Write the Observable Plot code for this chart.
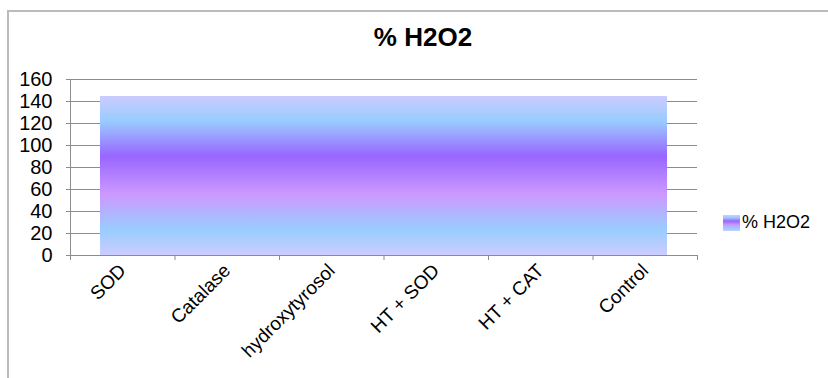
<!DOCTYPE html>
<html>
<head>
<meta charset="utf-8">
<script src="https://cdn.jsdelivr.net/npm/d3@7"></script>
<script src="https://cdn.jsdelivr.net/npm/@observablehq/plot@0.6"></script>
<style>
  html, body { margin: 0; padding: 0; background: #fff; }
  #wrap { position: relative; width: 828px; height: 378px; overflow: hidden; font-family: "Liberation Sans", Arial, sans-serif; }
  #frame { position: absolute; left: 7px; top: 10px; width: 900px; height: 500px; border-left: 2px solid #bbb; border-top: 2px solid #bbb; box-sizing: border-box; }
  #title { position: absolute; left: 0; top: 22px; width: 846px; text-align: center; font-weight: bold; font-size: 26px; color: #000; }
  #legend { position: absolute; left: 723px; top: 212px; display: flex; align-items: center; font-size: 18px; color: #000; }
  #legend .sw { width: 17px; height: 16px; margin-right: 2px;
    background: linear-gradient(to bottom, #ccccff 0%, #99ccff 16%, #9966ff 38%, #cc99ff 62%, #99ccff 84%, #ccccff 100%); }
  #chart { position: absolute; left: 0; top: 0; }
</style>
</head>
<body>
<div id="wrap">
  <div id="frame"></div>
  <div id="chart"></div>
  <div id="title">% H2O2</div>
  <div id="legend"><div class="sw"></div><span>% H2O2</span></div>
</div>
<script>
const categories = ["SOD", "Catalase", "hydroxytyrosol", "HT + SOD", "HT + CAT", "Control"];
const values = [145, 145, 145, 145, 145, 145];
const yTicks = [0, 20, 40, 60, 80, 100, 120, 140, 160];

const data = categories.map((c, i) => ({category: c, index: i, value: values[i]}));
const n = categories.length;
const outerInset = 0.287;                 // bars start/end inside the first/last category slot
const barStep = (n - 2 * outerInset) / n; // bars are drawn edge to edge

const plot = Plot.plot({
  width: 828,
  height: 378,
  marginLeft: 70,
  marginRight: 131,
  marginTop: 79,
  marginBottom: 123,
  style: {fontFamily: "'Liberation Sans', Arial, sans-serif", background: "transparent"},
  x: {type: "linear", domain: [0, n], axis: null},
  y: {domain: [0, 160], axis: null},
  marks: [
    Plot.gridY(yTicks.slice(1), {stroke: "#8c8c8c", strokeOpacity: 1, strokeWidth: 1}),
    Plot.rectY(data, {
      x1: d => outerInset + d.index * barStep,
      x2: d => outerInset + (d.index + 1) * barStep,
      y: "value",
      fill: "url(#barGrad)",
      shapeRendering: "crispEdges"
    }),
    Plot.ruleX([0], {y1: 0, y2: 160, stroke: "#8c8c8c", strokeWidth: 1}),
    Plot.ruleY([0], {stroke: "#8c8c8c", strokeWidth: 1}),
    Plot.axisY({ticks: yTicks, tickSize: 4, tickPadding: 14, stroke: "#8c8c8c", fontSize: 20, fill: "#000", label: null}),
    Plot.axisX({ticks: d3.range(0, n + 1), tickSize: 5, tickFormat: () => "", stroke: "#8c8c8c", label: null}),
    Plot.axisX({
      ticks: d3.range(n).map(i => i + 0.5),
      tickSize: 0,
      tickPadding: 12,
      tickRotate: -45,
      tickFormat: v => categories[Math.floor(v)],
      fontSize: 19,
      fill: "#000",
      label: null
    })
  ]
});

const ns = "http://www.w3.org/2000/svg";
const defs = document.createElementNS(ns, "defs");
const grad = document.createElementNS(ns, "linearGradient");
grad.setAttribute("id", "barGrad");
grad.setAttribute("x1", "0"); grad.setAttribute("y1", "0");
grad.setAttribute("x2", "0"); grad.setAttribute("y2", "1");
[["0%", "#ccccff"], ["16%", "#99ccff"], ["38%", "#9966ff"], ["62%", "#cc99ff"], ["84%", "#99ccff"], ["100%", "#ccccff"]]
  .forEach(([o, c]) => {
    const s = document.createElementNS(ns, "stop");
    s.setAttribute("offset", o);
    s.setAttribute("stop-color", c);
    grad.appendChild(s);
  });
defs.appendChild(grad);
plot.insertBefore(defs, plot.firstChild);
document.getElementById("chart").appendChild(plot);
</script>
</body>
</html>
